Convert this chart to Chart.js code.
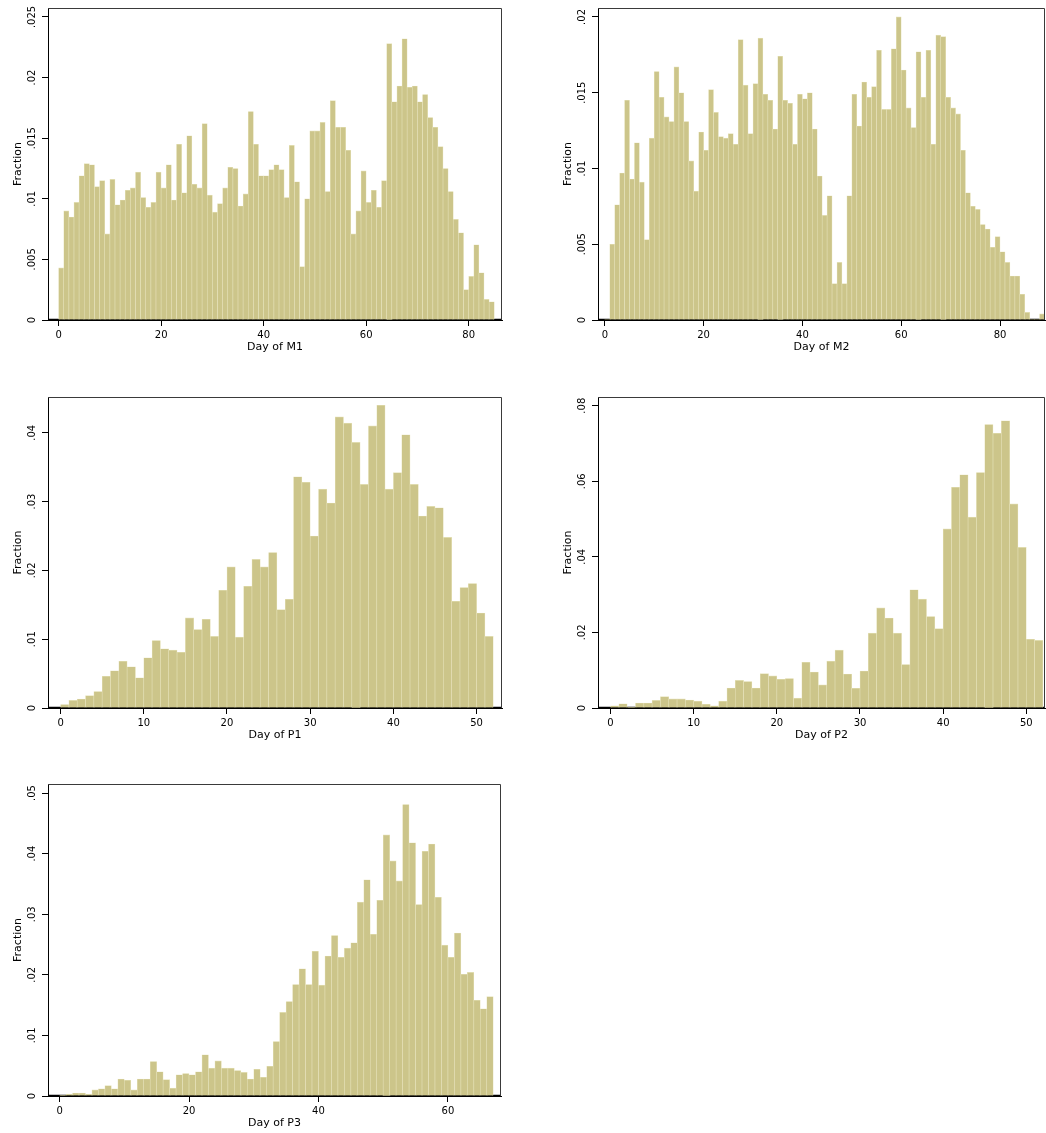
<!DOCTYPE html>
<html>
<head>
<meta charset="utf-8">
<script src="https://cdn.jsdelivr.net/npm/chart.js@4.4.0/dist/chart.umd.min.js"></script>
<style>
html, body { margin: 0; padding: 0; background: #ffffff; overflow: hidden; width: 1046px; height: 1133px; }
canvas { position: absolute; }
</style>
</head>
<body>
<canvas id="m1"></canvas>
<canvas id="m2"></canvas>
<canvas id="p1"></canvas>
<canvas id="p2"></canvas>
<canvas id="p3"></canvas>
<script>
// ---------------- DATA ----------------
const yTitle = 'Fraction';

const m1Title = 'Day of M1';
const m1FirstDay = 0;
const m1Values = [
  0.0043, 0.0090, 0.0085, 0.0097, 0.0119, 0.0129, 0.0128, 0.0110, 0.0115, 0.0071,
  0.0116, 0.0095, 0.0099, 0.0107, 0.0109, 0.0122, 0.0101, 0.0093, 0.0097, 0.0122,
  0.0109, 0.0128, 0.0099, 0.0145, 0.0105, 0.0152, 0.0112, 0.0109, 0.0162, 0.0103,
  0.0089, 0.0096, 0.0109, 0.0126, 0.0125, 0.0094, 0.0104, 0.0172, 0.0145, 0.0119,
  0.0119, 0.0124, 0.0128, 0.0124, 0.0101, 0.0144, 0.0114, 0.0044, 0.0100, 0.0156,
  0.0156, 0.0163, 0.0106, 0.0181, 0.0159, 0.0159, 0.0140, 0.0071, 0.0090, 0.0123,
  0.0097, 0.0107, 0.0093, 0.0115, 0.0228, 0.0180, 0.0193, 0.0232, 0.0192, 0.0193,
  0.0180, 0.0186, 0.0167, 0.0159, 0.0143, 0.0125, 0.0106, 0.0083, 0.0072, 0.0025,
  0.0036, 0.0062, 0.0039, 0.0017, 0.0015
];
const m1XTicks = [0, 20, 40, 60, 80];
const m1YTicks = [0, 0.005, 0.01, 0.015, 0.02, 0.025];

const m2Title = 'Day of M2';
const m2FirstDay = 0;
const m2Values = [
  0,      0.0050, 0.0076, 0.0097, 0.0145, 0.0093, 0.0117, 0.0091, 0.0053, 0.0120,
  0.0164, 0.0147, 0.0134, 0.0131, 0.0167, 0.0150, 0.0131, 0.0105, 0.0085, 0.0124,
  0.0112, 0.0152, 0.0137, 0.0121, 0.0120, 0.0123, 0.0116, 0.0185, 0.0155, 0.0123,
  0.0156, 0.0186, 0.0149, 0.0145, 0.0126, 0.0174, 0.0145, 0.0143, 0.0116, 0.0149,
  0.0146, 0.0150, 0.0126, 0.0095, 0.0069, 0.0082, 0.0024, 0.0038, 0.0024, 0.0082,
  0.0149, 0.0128, 0.0157, 0.0147, 0.0154, 0.0178, 0.0139, 0.0139, 0.0179, 0.0200,
  0.0165, 0.0140, 0.0127, 0.0177, 0.0147, 0.0178, 0.0116, 0.0188, 0.0187, 0.0147,
  0.0140, 0.0136, 0.0112, 0.0084, 0.0075, 0.0073, 0.0063, 0.0060, 0.0048, 0.0055,
  0.0045, 0.0038, 0.0029, 0.0029, 0.0017, 0.0005, 0,      0,      0.0004
];
const m2XTicks = [0, 20, 40, 60, 80];
const m2YTicks = [0, 0.005, 0.01, 0.015, 0.02];

const p1Title = 'Day of P1';
const p1FirstDay = 0;
const p1Values = [
  0.0005, 0.0011, 0.0013, 0.0018, 0.0024, 0.0046, 0.0054, 0.0068, 0.0060, 0.0044,
  0.0073, 0.0098, 0.0086, 0.0084, 0.0081, 0.0131, 0.0114, 0.0129, 0.0104, 0.0171,
  0.0205, 0.0103, 0.0177, 0.0216, 0.0205, 0.0226, 0.0143, 0.0158, 0.0336, 0.0328,
  0.0250, 0.0318, 0.0298, 0.0423, 0.0414, 0.0386, 0.0325, 0.0410, 0.0440, 0.0318,
  0.0342, 0.0397, 0.0325, 0.0279, 0.0293, 0.0291, 0.0248, 0.0155, 0.0175, 0.0181,
  0.0138, 0.0104
];
const p1XTicks = [0, 10, 20, 30, 40, 50];
const p1YTicks = [0, 0.01, 0.02, 0.03, 0.04];

const p2Title = 'Day of P2';
const p2FirstDay = 0;
const p2Values = [
  0.0006, 0.0011, 0.0002, 0.0013, 0.0013, 0.0020, 0.0030, 0.0024, 0.0024, 0.0021,
  0.0018, 0.0010, 0.0006, 0.0018, 0.0053, 0.0073, 0.0070, 0.0053, 0.0091, 0.0085,
  0.0076, 0.0078, 0.0026, 0.0121, 0.0095, 0.0061, 0.0124, 0.0153, 0.0090, 0.0052,
  0.0098, 0.0198, 0.0265, 0.0238, 0.0198, 0.0115, 0.0313, 0.0288, 0.0242, 0.0210,
  0.0474, 0.0584, 0.0617, 0.0505, 0.0623, 0.0750, 0.0727, 0.0760, 0.0540, 0.0425,
  0.0182, 0.0179
];
const p2XTicks = [0, 10, 20, 30, 40, 50];
const p2YTicks = [0, 0.02, 0.04, 0.06, 0.08];

const p3Title = 'Day of P3';
const p3FirstDay = 0;
const p3Values = [
  0.0001, 0.0003, 0.0005, 0.0005, 0.0003, 0.0010, 0.0012, 0.0017, 0.0012, 0.0028,
  0.0026, 0.0010, 0.0028, 0.0028, 0.0057, 0.0040, 0.0027, 0.0013, 0.0035, 0.0037,
  0.0035, 0.0040, 0.0068, 0.0046, 0.0058, 0.0046, 0.0046, 0.0042, 0.0039, 0.0028,
  0.0044, 0.0031, 0.0049, 0.0090, 0.0138, 0.0156, 0.0184, 0.0210, 0.0184, 0.0239,
  0.0183, 0.0231, 0.0265, 0.0229, 0.0244, 0.0253, 0.0320, 0.0357, 0.0267, 0.0323,
  0.0431, 0.0388, 0.0355, 0.0481, 0.0418, 0.0316, 0.0404, 0.0416, 0.0328, 0.0249,
  0.0229, 0.0269, 0.0201, 0.0204, 0.0158, 0.0144, 0.0164
];
const p3XTicks = [0, 20, 40, 60];
const p3YTicks = [0, 0.01, 0.02, 0.03, 0.04, 0.05];

// ---------------- STYLE / LAYOUT ----------------
const FONT_FAMILY = 'DejaVu Sans';
const TICK_FONT = { family: FONT_FAMILY, size: 10 };
const TITLE_FONT = { family: FONT_FAMILY, size: 11 };
const BAR_FILL = '#CCC58A';
const BAR_EDGE = '#E6E2BA';
const Y_AXIS_W = 48, X_AXIS_H = 36, PAD_TOP = 8, PAD_RIGHT = 1;

const panels = [
  { id: 'm1', values: m1Values, firstDay: m1FirstDay, xTitle: m1Title, xTicks: m1XTicks, yTicks: m1YTicks,
    box: { left: 48, right: 502, top: 8, bottom: 320 }, xMin: -2.07, xMax: 86.5, yMax: 0.02574 },
  { id: 'm2', values: m2Values, firstDay: m2FirstDay, xTitle: m2Title, xTicks: m2XTicks, yTicks: m2YTicks,
    box: { left: 598, right: 1045, top: 8, bottom: 320 }, xMin: -1.38, xMax: 89.1, yMax: 0.02059 },
  { id: 'p1', values: p1Values, firstDay: p1FirstDay, xTitle: p1Title, xTicks: p1XTicks, yTicks: p1YTicks,
    box: { left: 48, right: 502, top: 397, bottom: 708 }, xMin: -1.51, xMax: 53.05, yMax: 0.0452 },
  { id: 'p2', values: p2Values, firstDay: p2FirstDay, xTitle: p2Title, xTicks: p2XTicks, yTicks: p2YTicks,
    box: { left: 598, right: 1045, top: 397, bottom: 708 }, xMin: -1.51, xMax: 52.25, yMax: 0.0823 },
  { id: 'p3', values: p3Values, firstDay: p3FirstDay, xTitle: p3Title, xTicks: p3XTicks, yTicks: p3YTicks,
    box: { left: 48, right: 501, top: 784, bottom: 1096 }, xMin: -1.79, xMax: 68.2, yMax: 0.0515 }
];

function fmtY(v) {
  if (Math.abs(v) < 1e-12) return '0';
  return String(+v.toFixed(4)).replace(/^0\./, '.');
}

const measureCtx = document.createElement('canvas').getContext('2d');
function widestLabel(labels) {
  measureCtx.font = TICK_FONT.size + 'px "' + FONT_FAMILY + '"';
  return Math.max.apply(null, labels.map(l => measureCtx.measureText(l).width));
}

const framePlugin = {
  id: 'frame',
  afterDraw(chart) {
    const a = chart.chartArea, ctx = chart.ctx;
    ctx.save();
    ctx.strokeStyle = '#3a3a3a';
    ctx.lineWidth = 1;
    ctx.beginPath();
    ctx.moveTo(a.left, a.top + 0.5);
    ctx.lineTo(a.right - 0.5, a.top + 0.5);
    ctx.lineTo(a.right - 0.5, a.bottom);
    ctx.stroke();
    ctx.restore();
  }
};

function axisGrid() {
  return { display: true, drawOnChartArea: false, drawTicks: true, tickLength: 6, tickColor: '#000', tickWidth: 1, offset: false };
}

function makePanel(p) {
  const canvas = document.getElementById(p.id);
  const w = (p.box.right - p.box.left) + Y_AXIS_W + PAD_RIGHT;
  const h = (p.box.bottom - p.box.top) + PAD_TOP + X_AXIS_H;
  canvas.width = w; canvas.height = h;
  canvas.style.width = w + 'px'; canvas.style.height = h + 'px';
  canvas.style.left = (p.box.left - Y_AXIS_W) + 'px';
  canvas.style.top = (p.box.top - PAD_TOP) + 'px';

  const bars = p.values.map((v, i) => ({ x: p.firstDay + i + 0.5, y: v }));
  const yLabels = p.yTicks.map(fmtY);
  const yPad = 9.7 - widestLabel(yLabels) / 2;

  new Chart(canvas, {
    type: 'bar',
    data: {
      datasets: [
        {
          type: 'bar', data: bars,
          backgroundColor: BAR_FILL, borderColor: BAR_EDGE,
          borderWidth: c => (c.raw && c.raw.y > 0 ? 0.6 : 0),
          borderSkipped: 'start', barPercentage: 1, categoryPercentage: 1, order: 1
        },
        {
          type: 'line', data: [{ x: p.xMin, y: 0 }, { x: p.xMax, y: 0 }],
          borderColor: '#000', borderWidth: 2.5, pointRadius: 0, order: 2
        }
      ]
    },
    options: {
      responsive: false, animation: false, devicePixelRatio: 1,
      layout: { padding: { top: PAD_TOP, right: PAD_RIGHT, left: 0, bottom: 0 }, autoPadding: false },
      plugins: { legend: { display: false }, tooltip: { enabled: false } },
      scales: {
        x: {
          type: 'linear', min: p.xMin, max: p.xMax, offset: false, z: 1,
          grid: axisGrid(),
          border: { display: true, color: '#000', width: 1 },
          afterBuildTicks: s => { s.ticks = p.xTicks.map(v => ({ value: v })); },
          afterFit: s => { s.height = X_AXIS_H; },
          ticks: { font: TICK_FONT, color: '#000', padding: 3, maxRotation: 0, minRotation: 0, autoSkip: false, callback: v => String(v) },
          title: { display: true, text: p.xTitle, font: TITLE_FONT, color: '#000', padding: { top: 0, bottom: 2 } }
        },
        y: {
          type: 'linear', min: 0, max: p.yMax, z: 1,
          grid: axisGrid(),
          border: { display: true, color: '#000', width: 1 },
          afterBuildTicks: s => { s.ticks = p.yTicks.map(v => ({ value: v })); },
          afterFit: s => { s.width = Y_AXIS_W; },
          ticks: { font: TICK_FONT, color: '#000', padding: yPad, minRotation: 90, maxRotation: 90, crossAlign: 'center', autoSkip: false, callback: v => fmtY(v) },
          title: { display: true, text: yTitle, font: TITLE_FONT, color: '#000', padding: { top: 12, bottom: 0 } }
        }
      }
    },
    plugins: [framePlugin]
  });
}

panels.forEach(makePanel);
</script>
</body>
</html>
